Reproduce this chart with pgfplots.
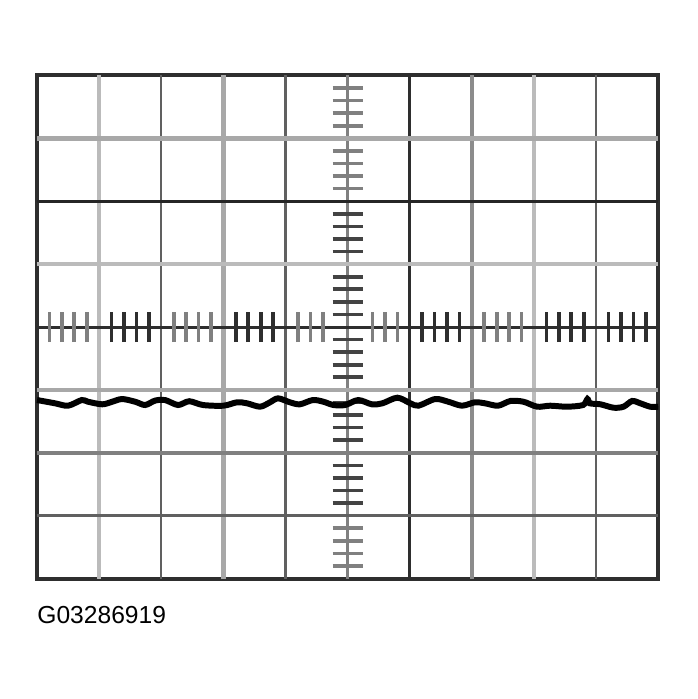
\documentclass[border=0pt]{standalone}
\usepackage{pgfplots}
\pgfplotsset{compat=1.18}
\usepackage{fontspec}
\setmainfont{Liberation Sans}

\definecolor{gdark}{HTML}{2E2E2E}
\definecolor{gmid}{HTML}{606060}
\definecolor{glight}{HTML}{A8A8A8}
\definecolor{gpale}{HTML}{BBBBBB}

\begin{document}
\begin{tikzpicture}
\begin{axis}[
    scale only axis,
    width=12.42cm,
    height=10.06cm,
    xmin=0, xmax=10,
    ymin=-4, ymax=4,
    ticks=none,
    clip=false,
    axis line style={line width=2.2pt, color=gdark},
]
% invisible frame giving the page its margins
\path (axis cs:-0.596,5.199) rectangle (axis cs:10.628,-5.914);

% vertical graticule lines
\draw[gpale,   line width=2.4pt] (axis cs:1,-4) -- (axis cs:1,4);
\draw[gmid,    line width=1.3pt] (axis cs:2,-4) -- (axis cs:2,4);
\draw[glight,  line width=2.4pt] (axis cs:3,-4) -- (axis cs:3,4);
\draw[gmid,    line width=1.3pt] (axis cs:4,-4) -- (axis cs:4,4);
\draw[black!50,line width=1.8pt] (axis cs:5,-4) -- (axis cs:5,4);
\draw[gdark,   line width=1.5pt] (axis cs:6,-4) -- (axis cs:6,4);
\draw[black!45,line width=2.4pt] (axis cs:7,-4) -- (axis cs:7,4);
\draw[gpale,   line width=2.4pt] (axis cs:8,-4) -- (axis cs:8,4);
\draw[gmid,    line width=1.3pt] (axis cs:9,-4) -- (axis cs:9,4);

% horizontal graticule lines
\draw[glight,  line width=2.6pt] (axis cs:0,3) -- (axis cs:10,3);
\draw[black!85,line width=1.6pt] (axis cs:0,2) -- (axis cs:10,2);
\draw[gpale,   line width=2.6pt] (axis cs:0,1) -- (axis cs:10,1);
\draw[gdark,   line width=1.7pt] (axis cs:0,0) -- (axis cs:10,0);
\draw[glight,  line width=2.4pt] (axis cs:0,-1) -- (axis cs:10,-1);
\draw[black!50,line width=2.0pt] (axis cs:0,-2) -- (axis cs:10,-2);
\draw[gmid,    line width=1.4pt] (axis cs:0,-3) -- (axis cs:10,-3);

% minor division marks on the horizontal centre line
\pgfplotsinvokeforeach{0.2,0.4,0.6,0.8,2.2,2.4,2.6,2.8,4.2,4.4,4.6,5.4,5.6,5.8,7.2,7.4,7.6,7.8}{
  \draw[black!50, line width=2.1pt] (axis cs:#1,-0.24) -- (axis cs:#1,0.24);
}
\pgfplotsinvokeforeach{1.2,1.4,1.6,1.8,3.2,3.4,3.6,3.8,6.2,6.4,6.6,6.8,8.2,8.4,8.6,8.8,9.2,9.4,9.6,9.8}{
  \draw[gdark, line width=2.1pt] (axis cs:#1,-0.24) -- (axis cs:#1,0.24);
}

% minor division marks on the vertical centre line
\pgfplotsinvokeforeach{3.8,3.6,3.4,3.2,2.8,2.6,2.4,2.2,-3.2,-3.4,-3.6,-3.8}{
  \draw[black!50, line width=2.1pt] (axis cs:4.76,#1) -- (axis cs:5.24,#1);
}
\pgfplotsinvokeforeach{1.8,1.6,1.4,1.2,0.8,0.6,0.4,0.2,-0.2,-0.4,-0.6,-0.8,-1.2,-1.4,-1.6,-1.8,-2.2,-2.4,-2.6,-2.8}{
  \draw[gdark!90, line width=2.1pt] (axis cs:4.76,#1) -- (axis cs:5.24,#1);
}

% trace
\addplot[black, line width=3.4pt, smooth, tension=0.5] coordinates {
  (0,-1.161) (0.29,-1.213) (0.50,-1.251) (0.72,-1.161) (0.82,-1.188)
  (1.05,-1.229) (1.21,-1.188) (1.37,-1.145) (1.58,-1.188) (1.74,-1.240)
  (1.90,-1.170) (2.06,-1.161) (2.27,-1.240) (2.45,-1.180) (2.67,-1.240)
  (3.00,-1.251) (3.22,-1.197) (3.38,-1.213) (3.59,-1.267) (3.75,-1.197)
  (3.88,-1.134) (4.07,-1.197) (4.23,-1.229) (4.44,-1.161) (4.61,-1.188)
  (4.77,-1.240) (4.96,-1.240) (5.17,-1.161) (5.39,-1.229) (5.56,-1.213)
  (5.80,-1.124) (6.01,-1.213) (6.14,-1.251) (6.41,-1.145) (6.62,-1.188)
  (6.84,-1.251) (7.05,-1.197) (7.21,-1.213) (7.42,-1.251) (7.62,-1.176)
  (7.83,-1.188) (8.05,-1.267) (8.26,-1.251) (8.53,-1.267) (8.79,-1.240)
  (8.86,-1.145) (8.90,-1.213) (9.07,-1.229) (9.28,-1.283) (9.44,-1.267)
  (9.58,-1.176) (9.71,-1.213) (9.87,-1.267) (10,-1.267)
};

\node[anchor=base west, inner sep=0pt, font=\fontsize{14}{16}\selectfont]
  at (axis cs:0,-4.706) {G03286919};
\end{axis}
\end{tikzpicture}
\end{document}
